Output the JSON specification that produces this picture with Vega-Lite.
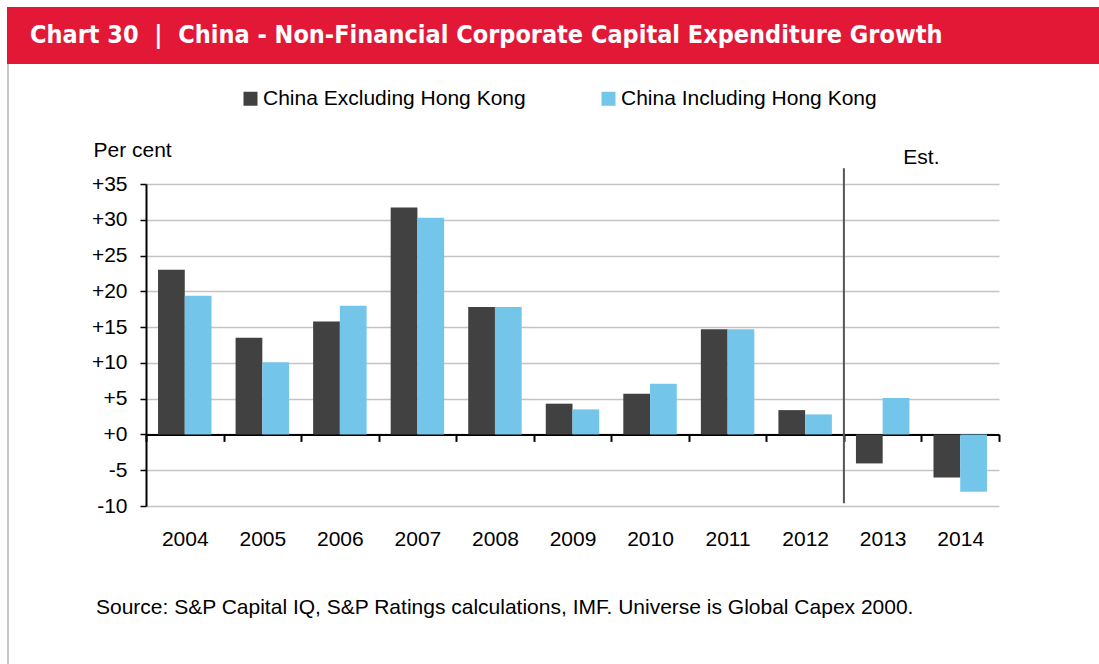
{
  "$schema": "https://vega.github.io/schema/vega-lite/v6.json",
  "padding": {"left": 7, "top": 7, "right": 0, "bottom": 0},
  "autosize": {"type": "pad"},
  "background": "white",
  "config": {
    "view": {"stroke": null},
    "font": "Liberation Sans",
    "text": {"font": "Liberation Sans"},
    "axisY": {
      "tickCount": 20,
      "labelOverlap": false,
      "labelExpr": "datum.value >= 0 ? '+' + datum.value : '' + datum.value",
      "labelFontSize": 21,
      "labelFont": "Liberation Sans",
      "labelColor": "black",
      "labelPadding": 13,
      "tickSize": 6,
      "tickColor": "black",
      "tickWidth": 1.5,
      "domainColor": "black",
      "domainWidth": 2,
      "gridColor": "#c4c4c4",
      "gridWidth": 1.5,
      "titleAngle": 0,
      "titleAlign": "left",
      "titleBaseline": "middle",
      "titleX": -53,
      "titleY": -34,
      "titleFontSize": 21,
      "titleFontWeight": "normal",
      "titleFont": "Liberation Sans",
      "titleColor": "black"
    }
  },
  "spacing": 0,
  "resolve": {"scale": {"color": "independent"}, "legend": {"color": "independent"}},
  "vconcat": [
    {
      "width": 1092,
      "height": 57,
      "view": {"fill": "#E31837", "stroke": null},
      "data": {"values": [{"part": "banner"}]},
      "title": {
        "text": "Chart 30\u00a0 |\u00a0 China - Non-Financial Corporate Capital Expenditure Growth",
        "orient": "top",
        "anchor": "start",
        "frame": "group",
        "offset": -61,
        "dx": 23,
        "baseline": "alphabetic",
        "font": "DejaVu Sans Condensed",
        "fontSize": 25,
        "fontWeight": "bold",
        "color": "white"
      },
      "mark": {"type": "rect", "color": "#E31837"},
      "encoding": {}
    },
    {
      "spacing": 82,
      "resolve": {"scale": {"color": "independent", "y": "independent"}, "legend": {"color": "independent"}},
      "hconcat": [
        {
          "width": 2,
          "height": 480,
          "data": {"values": [{"part": "frame"}]},
          "mark": {"type": "rect", "color": "#c8c8c8", "clip": false},
          "encoding": {
            "y": {"datum": 0, "type": "quantitative", "scale": {"domain": [0, 480], "nice": false}, "axis": null},
            "y2": {"datum": 600}
          }
        },
        {
          "width": 853,
          "height": 322,
          "title": {
            "text": "Source: S&P Capital IQ, S&P Ratings calculations, IMF. Universe is Global Capex 2000.",
            "orient": "bottom",
            "anchor": "start",
            "frame": "group",
            "dx": -50,
            "offset": 48,
            "baseline": "top",
            "font": "Liberation Sans",
            "fontSize": 21,
            "fontWeight": "normal",
            "color": "black"
          },
          "data": {
            "values": [
              {"year": "2004", "series": "China Excluding Hong Kong", "value": 23.0},
              {"year": "2004", "series": "China Including Hong Kong", "value": 19.4},
              {"year": "2005", "series": "China Excluding Hong Kong", "value": 13.5},
              {"year": "2005", "series": "China Including Hong Kong", "value": 10.1},
              {"year": "2006", "series": "China Excluding Hong Kong", "value": 15.8},
              {"year": "2006", "series": "China Including Hong Kong", "value": 18.0},
              {"year": "2007", "series": "China Excluding Hong Kong", "value": 31.7},
              {"year": "2007", "series": "China Including Hong Kong", "value": 30.3},
              {"year": "2008", "series": "China Excluding Hong Kong", "value": 17.8},
              {"year": "2008", "series": "China Including Hong Kong", "value": 17.8},
              {"year": "2009", "series": "China Excluding Hong Kong", "value": 4.3},
              {"year": "2009", "series": "China Including Hong Kong", "value": 3.5},
              {"year": "2010", "series": "China Excluding Hong Kong", "value": 5.7},
              {"year": "2010", "series": "China Including Hong Kong", "value": 7.1},
              {"year": "2011", "series": "China Excluding Hong Kong", "value": 14.7},
              {"year": "2011", "series": "China Including Hong Kong", "value": 14.7},
              {"year": "2012", "series": "China Excluding Hong Kong", "value": 3.4},
              {"year": "2012", "series": "China Including Hong Kong", "value": 2.8},
              {"year": "2013", "series": "China Excluding Hong Kong", "value": -4.05},
              {"year": "2013", "series": "China Including Hong Kong", "value": 5.1},
              {"year": "2014", "series": "China Excluding Hong Kong", "value": -6.0},
              {"year": "2014", "series": "China Including Hong Kong", "value": -8.0}
            ]
          },
          "layer": [
            {
              "mark": {"type": "bar"},
              "encoding": {
                "x": {
                  "field": "year",
                  "type": "nominal",
                  "scale": {"paddingInner": 0, "paddingOuter": 0},
                  "axis": {
                    "title": null,
                    "orient": "bottom",
                    "offset": -71.6,
                    "labelAngle": 0,
                    "tickBand": "extent",
                    "tickSize": 7,
                    "tickColor": "black",
                    "tickWidth": 2,
                    "domainColor": "black",
                    "domainWidth": 2,
                    "labelPadding": 87,
                    "labelFontSize": 21,
                    "labelColor": "black",
                    "labelFont": "Liberation Sans",
                    "grid": false
                  }
                },
                "xOffset": {
                  "field": "series",
                  "type": "nominal",
                  "scale": {"paddingOuter": 0.45, "paddingInner": 0}
                },
                "y": {
                  "field": "value",
                  "type": "quantitative",
                  "scale": {"domain": [-10, 35], "nice": false, "zero": false},
                  "axis": {"title": "Per cent", "tickCount": 20, "values": [-10, -5, 0, 5, 10, 15, 20, 25, 30, 35]}
                },
                "color": {
                  "field": "series",
                  "type": "nominal",
                  "scale": {
                    "domain": ["China Excluding Hong Kong", "China Including Hong Kong"],
                    "range": ["#414142", "#73C6EA"]
                  },
                  "legend": {
                    "title": null,
                    "orient": "none",
                    "direction": "horizontal",
                    "legendX": 70,
                    "legendY": -120,
                    "padding": 24,
                    "fillColor": "white",
                    "symbolType": "square",
                    "symbolSize": 196,
                    "symbolStrokeWidth": 0,
                    "labelFontSize": 21,
                    "labelFont": "Liberation Sans",
                    "labelColor": "black",
                    "labelLimit": 500,
                    "labelOffset": 2,
                    "columnPadding": 72
                  }
                }
              }
            },
            {
              "data": {"values": [{"label": "Est."}]},
              "mark": {"type": "rule", "color": "#555555", "strokeWidth": 2},
              "encoding": {
                "x": {"datum": "2013", "type": "nominal", "bandPosition": 0},
                "y": {"datum": 37.2, "type": "quantitative", "axis": {"title": "Per cent", "tickCount": 20, "values": [-10, -5, 0, 5, 10, 15, 20, 25, 30, 35]}},
                "y2": {"datum": -9.6}
              }
            },
            {
              "data": {"values": [{"label": "Est."}]},
              "mark": {"type": "text", "fontSize": 21, "color": "black", "align": "center", "baseline": "middle", "font": "Liberation Sans"},
              "encoding": {
                "x": {"datum": "2014", "type": "nominal", "bandPosition": 0},
                "y": {"datum": 38.7, "type": "quantitative", "axis": {"title": "Per cent", "tickCount": 20, "values": [-10, -5, 0, 5, 10, 15, 20, 25, 30, 35]}},
                "text": {"field": "label"}
              }
            }
          ]
        }
      ]
    }
  ]
}
